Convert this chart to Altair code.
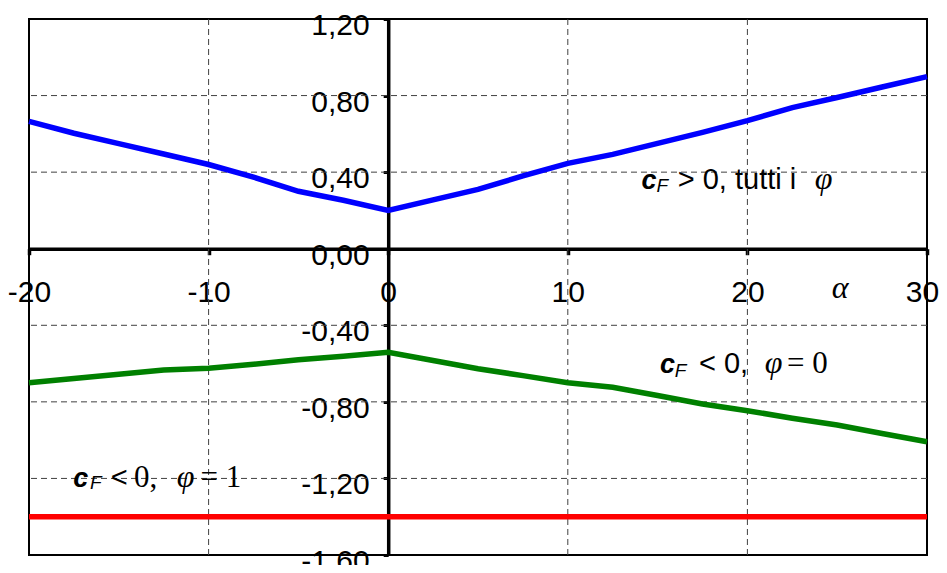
import altair as alt
import pandas as pd

# ---- data ----
alpha = [-20, -17.5, -15, -12.5, -10, -7.5, -5, -2.5, 0, 2.5, 5, 7.5, 10,
         12.5, 15, 17.5, 20, 22.5, 25, 27.5, 30]
cf_pos = [0.665, 0.603, 0.549, 0.495, 0.44, 0.374, 0.30, 0.253, 0.20, 0.255,
          0.31, 0.38, 0.446, 0.493, 0.55, 0.608, 0.669, 0.737, 0.79, 0.845, 0.899]
cf_phi0 = [-0.70, -0.678, -0.656, -0.634, -0.625, -0.604, -0.58, -0.562, -0.541,
           -0.584, -0.627, -0.663, -0.70, -0.724, -0.767, -0.811, -0.846,
           -0.886, -0.921, -0.965, -1.008]
alpha_phi1 = [-20, 30]
cf_phi1 = [-1.40, -1.40]

x_ticks = [-20, -10, 0, 10, 20, 30]
y_ticks = [-1.6, -1.2, -0.8, -0.4, 0, 0.4, 0.8, 1.2]
x_grid = [-10, 10, 20]
y_grid = [-1.2, -0.8, -0.4, 0.4, 0.8]

series_names = ["pos", "phi0", "phi1"]
series_colors = ["#0000FF", "#008000", "#FF0000"]

# annotation pieces (text, style, alpha, value)
ann_text = ["c", "F", "> 0, tutti i", "φ",
            "c", "F", "< 0,", "φ", "= 0",
            "c", "F", "<", "0,", "φ", "= 1",
            "α"]
ann_style = ["c", "sub", "sans", "greek",
             "c", "sub", "sans", "greek", "serif",
             "c", "sub", "sans", "serif", "greek", "serif",
             "greek"]
ann_x = [14.11, 14.94, 16.12, 23.75,
         15.13, 15.96, 17.30, 20.97, 22.20,
         -17.54, -16.61, -15.45, -14.15, -11.78, -10.45,
         24.70]
ann_y = [0.31, 0.298, 0.31, 0.31,
         -0.651, -0.669, -0.651, -0.651, -0.651,
         -1.243, -1.255, -1.243, -1.243, -1.243, -1.243,
         -0.258]

# ---- tables ----
rows = []
for a, v in zip(alpha, cf_pos):
    rows.append({"a": a, "v": v, "s": "pos"})
for a, v in zip(alpha, cf_phi0):
    rows.append({"a": a, "v": v, "s": "phi0"})
for a, v in zip(alpha_phi1, cf_phi1):
    rows.append({"a": a, "v": v, "s": "phi1"})
lines_df = pd.DataFrame(rows)
ann_df = pd.DataFrame({"t": ann_text, "st": ann_style, "x": ann_x, "y": ann_y})
xg_df = pd.DataFrame({"g": x_grid})
yg_df = pd.DataFrame({"g": y_grid})

W, H = 898, 536
xscale = alt.Scale(domain=[-20, 30], nice=False, zero=False)
yscale = alt.Scale(domain=[-1.6, 1.2], nice=False, zero=False)

y0_pix = (1.2 - 0) / 2.8 * H
x0_pix = (0 + 20) / 50 * W

x_axis = alt.Axis(
    values=x_ticks, title=None, grid=False, orient="bottom",
    offset=-(H - y0_pix),
    domainColor="black", domainWidth=3.5,
    tickColor="black", tickWidth=3.5, tickSize=6,
    labelFont="Liberation Sans", labelFontSize=30, labelColor="black",
    labelPadding=23, labelFlush=False, labelOverlap=False, labelBound=False,
    labelOffset={"condition": {"test": "datum.value == 30", "value": -5}, "value": 0},
    labelExpr="(datum.value < 0 ? '-' : '') + format(abs(datum.value), 'd')",
)
y_axis = alt.Axis(
    values=y_ticks, title=None, grid=False, orient="left",
    offset=-x0_pix,
    domainColor="black", domainWidth=3.5,
    tickColor="black", tickWidth=3, tickSize=5,
    labelFont="Liberation Sans", labelFontSize=30, labelColor="black",
    labelPadding=14, labelOffset=6.5, labelFlush=False, labelOverlap=False,
    labelBound=False,
    labelExpr="(datum.value < 0 ? '-' : '') + replace(format(abs(datum.value), '.2f'), '.', ',')",
)

vgrid = alt.Chart(xg_df).mark_rule(color="#404040", strokeWidth=1, strokeDash=[6, 4]).encode(
    x=alt.X("g:Q", scale=xscale, axis=x_axis)
)
hgrid = alt.Chart(yg_df).mark_rule(color="#404040", strokeWidth=1, strokeDash=[6, 4]).encode(
    y=alt.Y("g:Q", scale=yscale, axis=y_axis)
)

lines = alt.Chart(lines_df).mark_line(strokeWidth=5.5, strokeCap="butt").encode(
    x=alt.X("a:Q", scale=xscale, axis=x_axis),
    y=alt.Y("v:Q", scale=yscale, axis=y_axis),
    color=alt.Color("s:N", scale=alt.Scale(domain=series_names, range=series_colors), legend=None),
    order="a:Q",
)

styles = {
    "c": dict(font="Liberation Sans", fontSize=27, fontStyle="italic", fontWeight="bold"),
    "sub": dict(font="Liberation Sans", fontSize=19, fontStyle="italic"),
    "sans": dict(font="Liberation Sans", fontSize=29),
    "serif": dict(font="Liberation Serif", fontSize=31),
    "greek": dict(font="Liberation Serif", fontSize=32, fontStyle="italic"),
}
text_layers = []
for key, props in styles.items():
    text_layers.append(
        alt.Chart(ann_df).transform_filter(alt.datum.st == key).mark_text(
            align="left", baseline="alphabetic", color="black", **props
        ).encode(
            x=alt.X("x:Q", scale=xscale, axis=x_axis),
            y=alt.Y("y:Q", scale=yscale, axis=y_axis),
            text="t:N",
        )
    )

chart = alt.layer(vgrid, hgrid, lines, *text_layers).properties(
    width=W, height=H,
    autosize=alt.AutoSizeParams(type="none"),
    padding={"left": 21, "top": 11, "right": 12, "bottom": 10},
    background="white",
).configure_view(stroke="black", strokeWidth=2)

chart.save("out.html", embed_options={"renderer": "svg", "actions": False})
